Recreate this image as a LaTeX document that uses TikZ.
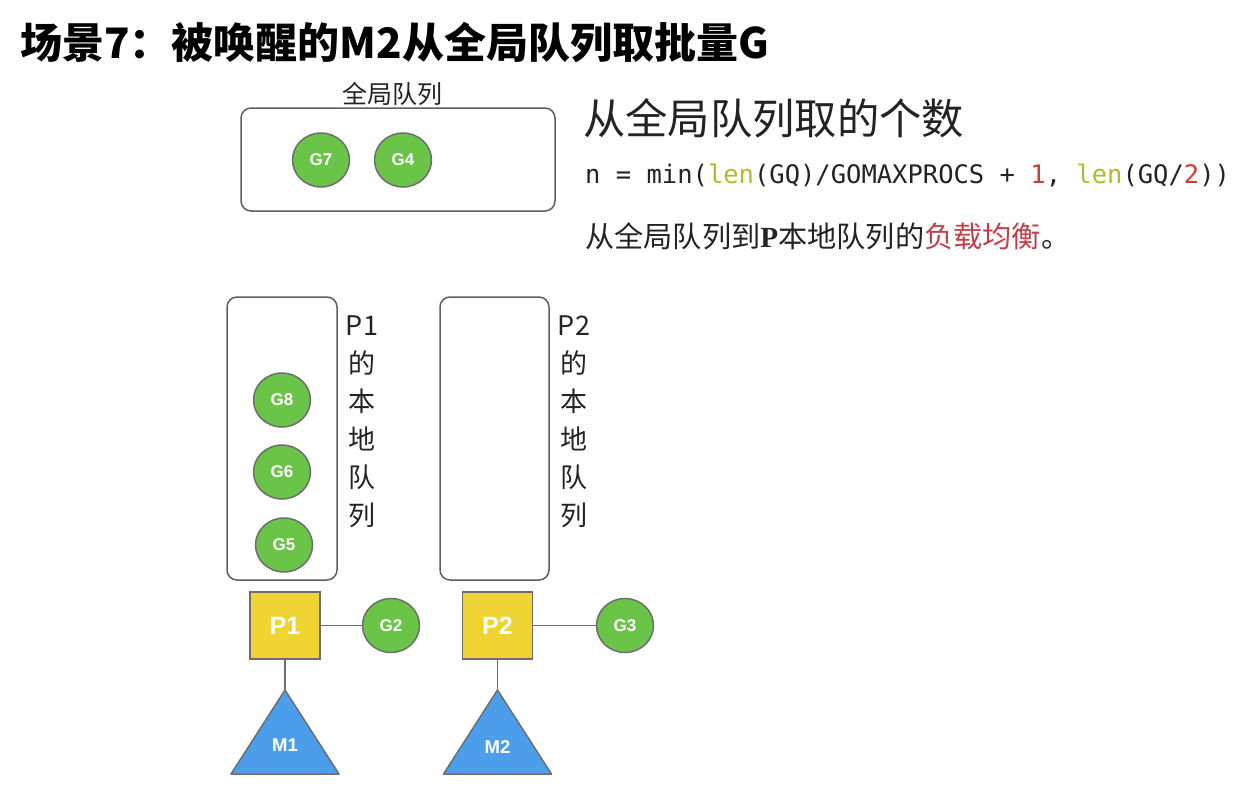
\documentclass[tikz,border=0pt]{standalone}
\usepackage{fontspec}
\setmainfont{Liberation Sans}
\newfontfamily\cjk{Noto Sans CJK SC}
\newfontfamily\codefont{DejaVu Sans Mono}
\newfontfamily\pfont{Liberation Serif}
\usetikzlibrary{positioning,shapes.geometric}
\definecolor{ggreen}{RGB}{106,196,72}
\definecolor{pyellow}{RGB}{239,212,52}
\definecolor{mblue}{RGB}{76,158,234}
\definecolor{edgegray}{RGB}{110,110,110}
\definecolor{boxgray}{RGB}{95,95,95}
\definecolor{lenolive}{RGB}{178,188,40}
\definecolor{numred}{RGB}{205,62,52}
\definecolor{hotred}{RGB}{196,62,74}
\definecolor{textdark}{RGB}{35,35,35}

\begin{document}
\begin{tikzpicture}[x=1pt,y=-1pt,
    gnode/.style={ellipse,draw=edgegray,line width=1.5pt,fill=ggreen,minimum width=57pt,minimum height=54pt,inner sep=0pt,text=white,font=\bfseries\fontsize{17}{17}\selectfont},
    pnode/.style={rectangle,draw=edgegray,line width=1.5pt,fill=pyellow,minimum width=70pt,minimum height=67pt,inner sep=0pt,text=white,font=\bfseries\fontsize{25}{25}\selectfont},
    queue/.style={draw=boxgray,line width=1.5pt,rounded corners=10pt,inner sep=0pt},
    mtri/.style={draw=edgegray,line width=1.5pt,fill=mblue,line join=round},
    mlabel/.style={text=white,inner sep=0pt,font=\bfseries\fontsize{18.5}{18.5}\selectfont},
    link/.style={draw=edgegray,line width=1.5pt},
    vlabel/.style={font=\cjk\fontsize{27}{38}\selectfont,align=center,anchor=north,inner sep=0pt,text=textdark},
    say/.style={anchor=west,inner sep=0pt,text=textdark}
  ]
  \useasboundingbox (0,0) rectangle (1253,795);

  % title and the text on the right
  \node[say,text=black,font=\cjk\bfseries\fontsize{42}{42}\selectfont] (title) at (20,43) {场景7：被唤醒的M2从全局队列取批量G};
  \node[say,font=\cjk\fontsize{42.3}{42.3}\selectfont] (howmany) at (583,118) {从全局队列取的个数};
  \node[say,font=\codefont\fontsize{25.5}{25.5}\selectfont] (formula) at (585,176)
    {n = min(\textcolor{lenolive}{len}(GQ)/GOMAXPROCS + \textcolor{numred}{1}, \textcolor{lenolive}{len}(GQ/\textcolor{numred}{2}))};
  \node[say,font=\cjk\fontsize{29.2}{29.2}\selectfont] (balance) at (585,236)
    {从全局队列到{\pfont\bfseries P}本地队列的\textcolor{hotred}{负载均衡}。};

  % global queue
  \node[queue,minimum width=314pt,minimum height=103pt] (gq) at (398,159.5) {};
  \node[inner sep=0pt,text=textdark,font=\cjk\fontsize{25}{25}\selectfont] (gqname) at (392,94) {全局队列};
  \node[gnode] (g7) at (321,160) {G7};
  \node[gnode] (g4) at (403,160) {G4};

  % local queues
  \node[queue,minimum width=110pt,minimum height=283pt] (lq1) at (282,438.5) {};
  \node[vlabel] (lq1name) at (362,316) {P1\\的\\本\\地\\队\\列};
  \node[gnode] (g8) at (282,400) {G8};
  \node[gnode] (g6) at (282,472) {G6};
  \node[gnode] (g5) at (284,545) {G5};

  \node[queue,minimum width=109pt,minimum height=283pt] (lq2) at (494.5,438.5) {};
  \node[vlabel] (lq2name) at (574,316) {P2\\的\\本\\地\\队\\列};

  % P, running G and M
  \node[pnode] (p1) at (285,625.5) {P1};
  \node[gnode] (g2) at (391,625.5) {G2};
  \draw[mtri] (285,690) -- (339,774) -- (231,774) -- cycle;
  \coordinate (m1top) at (285,690);
  \node[mlabel] (m1) at (285,745) {M1};
  \draw[link] (p1) -- (g2);
  \draw[link] (p1) -- (m1top);

  \node[pnode] (p2) at (497.5,625.5) {P2};
  \node[gnode] (g3) at (625,625.5) {G3};
  \draw[mtri] (497.5,690) -- (551.5,774) -- (443.5,774) -- cycle;
  \coordinate (m2top) at (497.5,690);
  \node[mlabel] (m2) at (497.5,747) {M2};
  \draw[link] (p2) -- (g3);
  \draw[link] (p2) -- (m2top);
\end{tikzpicture}
\end{document}
